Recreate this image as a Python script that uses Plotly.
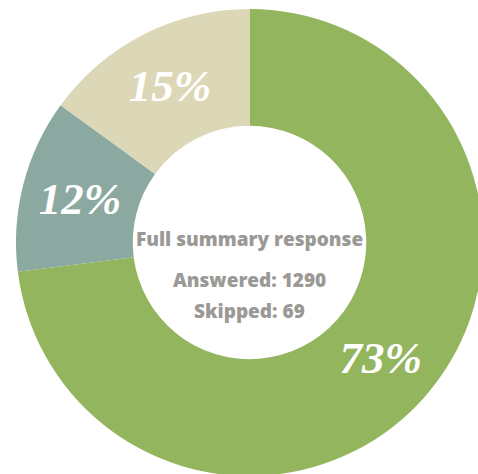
import plotly.graph_objects as go

# Data
categories = ["Full", "Partial", "Other"]
shares = [73, 12, 15]
slice_colors = ["#93B55E", "#8BA9A0", "#DCD8B7"]
center_title = "Full summary response"
answered_label = "Answered: 1290"
skipped_label = "Skipped: 69"

fig = go.Figure(
    go.Pie(
        labels=categories,
        values=shares,
        sort=False,
        direction="clockwise",
        rotation=0,
        hole=0.5,
        marker=dict(colors=slice_colors, line=dict(width=0)),
        texttemplate="%{value}%",
        textposition="inside",
        insidetextorientation="horizontal",
        textfont=dict(family="Liberation Serif", size=45, color="white",
                      style="italic", weight="bold"),
        hoverinfo="skip",
        showlegend=False,
        domain=dict(x=[0, 1], y=[0, 1]),
    )
)

gray = "#9A9995"
# plot area: top 9, height 467 -> paper y = 1 - (py - 9) / 467
fig.add_annotation(x=0.5, y=0.507, xref="paper", yref="paper", text=center_title,
                   showarrow=False, font=dict(family="Open Sans", size=19, color=gray, weight=800))
fig.add_annotation(x=0.5, y=0.420, xref="paper", yref="paper", text=answered_label,
                   showarrow=False, font=dict(family="Open Sans", size=19, color=gray, weight=800))
fig.add_annotation(x=0.5, y=0.353, xref="paper", yref="paper", text=skipped_label,
                   showarrow=False, font=dict(family="Open Sans", size=19, color=gray, weight=800))

fig.update_layout(
    width=483, height=476,
    margin=dict(l=16, t=9, r=0, b=0, pad=0),
    paper_bgcolor="white", plot_bgcolor="white",
)
fig.write_html(
    "out.html",
    config=dict(displayModeBar=False),
    post_script=(
        "document.body.style.margin='0';"
        "document.documentElement.style.overflow='hidden';"
        "document.body.style.overflow='hidden';"
    ),
)
